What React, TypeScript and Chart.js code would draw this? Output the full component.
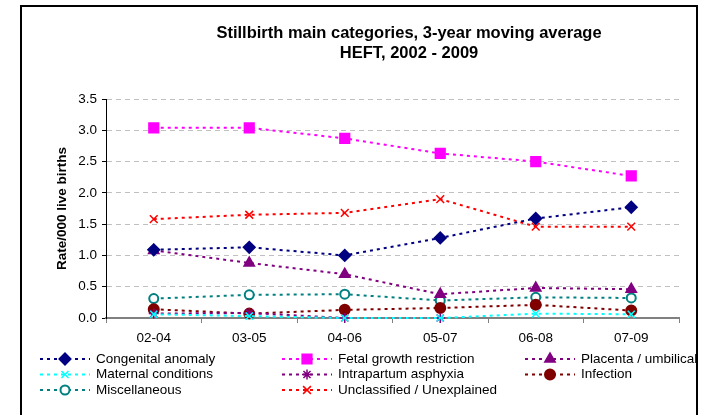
import React, { useEffect, useRef } from 'react';
import { Chart, registerables } from 'chart.js';
import { drawPoint } from 'chart.js/helpers';

Chart.register(...registerables);

const categories = ['02-04', '03-05', '04-06', '05-07', '06-08', '07-09'];
const congenital = [1.09, 1.13, 1.0, 1.28, 1.59, 1.77];
const fetalGrowth = [3.04, 3.04, 2.87, 2.63, 2.5, 2.27];
const placenta = [1.08, 0.88, 0.7, 0.38, 0.48, 0.46];
const maternal = [0.06, 0.03, 0.0, 0.0, 0.07, 0.06];
const intrapartum = [0.07, 0.08, 0.0, 0.0, null, null];
const infection = [0.14, 0.07, 0.13, 0.16, 0.21, 0.12];
const miscellaneous = [0.31, 0.37, 0.38, 0.28, 0.33, 0.32];
const unclassified = [1.58, 1.65, 1.68, 1.9, 1.46, 1.46];

const seriesNames = [
  'Congenital anomaly',
  'Fetal growth restriction',
  'Placenta / umbilical',
  'Maternal conditions',
  'Intrapartum asphyxia',
  'Infection',
  'Miscellaneous',
  'Unclassified / Unexplained',
];
const titleLines = ['Stillbirth main categories, 3-year moving average', 'HEFT, 2002 - 2009'];
const yTitle = 'Rate/000 live births';
const yTicks = { min: 0, max: 3.5, step: 0.5 };

const FONT = '"Liberation Sans", Arial, sans-serif';

function ds(label: string, data: (number | null)[], color: string, style: string, radius: number, fill: string, bw = 2) {
  return {
    label,
    data,
    borderColor: color,
    backgroundColor: color,
    borderWidth: 2,
    borderDash: [3, 4],
    pointStyle: style,
    pointRadius: radius,
    pointHoverRadius: radius,
    pointBackgroundColor: fill,
    pointBorderColor: color,
    pointBorderWidth: bw,
    fill: false,
    tension: 0,
    spanGaps: false,
    clip: false as any,
  };
}

const framePlugin = {
  id: 'frame',
  afterDraw(chart: any) {
    const ctx = chart.ctx;
    ctx.save();
    ctx.strokeStyle = '#000';
    ctx.lineWidth = 2;
    ctx.strokeRect(21, 6, 676, 430);
    // titles
    ctx.fillStyle = '#000';
    ctx.textAlign = 'center';
    ctx.textBaseline = 'middle';
    ctx.font = 'bold 16.5px ' + FONT;
    ctx.fillText(titleLines[0], 409, 33);
    ctx.fillText(titleLines[1], 409, 53);
    // y title
    ctx.save();
    ctx.translate(62, (chart.chartArea.top + chart.chartArea.bottom) / 2);
    ctx.rotate(-Math.PI / 2);
    ctx.font = 'bold 13.5px ' + FONT;
    ctx.fillText(yTitle, 0, 0);
    ctx.restore();
    // legend
    const colX = [40, 282, 525];
    const rowY = [359, 374.5, 390];
    ctx.beginPath();
    ctx.rect(0, 0, 696, 415);
    ctx.clip();
    chart.data.datasets.forEach((d: any, i: number) => {
      const x0 = colX[i % 3];
      const y = rowY[Math.floor(i / 3)];
      ctx.strokeStyle = d.borderColor;
      ctx.lineWidth = 2;
      ctx.setLineDash([3, 4]);
      ctx.beginPath();
      ctx.moveTo(x0, y);
      ctx.lineTo(x0 + 50, y);
      ctx.stroke();
      ctx.setLineDash([]);
      ctx.fillStyle = d.pointBackgroundColor;
      ctx.strokeStyle = d.pointBorderColor;
      ctx.lineWidth = d.pointBorderWidth;
      drawPoint(ctx, { pointStyle: d.pointStyle, radius: d.pointRadius, borderWidth: d.pointBorderWidth, rotation: 0 } as any, x0 + 25, y);
      ctx.fillStyle = '#000';
      ctx.font = '13.5px ' + FONT;
      ctx.textAlign = 'left';
      ctx.textBaseline = 'middle';
      ctx.fillText(d.label, x0 + 56, y);
    });
    ctx.restore();
  },
};

export default function App() {
  const ref = useRef<HTMLCanvasElement | null>(null);
  useEffect(() => {
    if (!ref.current) return;
    const chart = new Chart(ref.current, {
      type: 'line',
      data: {
        labels: categories,
        datasets: [
          ds(seriesNames[0], congenital, '#000080', 'rectRot', 5.5, '#000080'),
          ds(seriesNames[1], fetalGrowth, '#FF00FF', 'rect', 6.5, '#FF00FF'),
          ds(seriesNames[2], placenta, '#800080', 'triangle', 5.5, '#800080'),
          ds(seriesNames[3], maternal, '#00FFFF', 'crossRot', 5, '#00FFFF', 1.5),
          ds(seriesNames[4], intrapartum, '#800080', 'star', 5, '#800080', 1.5),
          ds(seriesNames[5], infection, '#800000', 'circle', 5, '#800000'),
          ds(seriesNames[6], miscellaneous, '#008080', 'circle', 4.5, '#FFFFFF'),
          ds(seriesNames[7], unclassified, '#FF0000', 'crossRot', 5.5, '#FF0000', 1.5),
        ],
      },
      options: {
        responsive: false,
        animation: false,
        devicePixelRatio: 1,
        layout: { padding: { left: 22, top: 99, right: 34, bottom: 67 } },
        plugins: { legend: { display: false }, title: { display: false }, tooltip: { enabled: false } },
        scales: {
          x: {
            offset: true,
            grid: { offset: true, drawOnChartArea: false, drawTicks: true, tickLength: 5, color: '#808080', tickColor: '#808080' },
            border: { display: true, color: '#808080', width: 2 },
            ticks: { color: '#000', font: { family: FONT, size: 13.5 }, padding: 7, maxRotation: 0 },
            afterFit: (s: any) => { s.height = 30; },
          },
          y: {
            min: yTicks.min,
            max: yTicks.max,
            grid: { color: '#c0c0c0', lineWidth: 1, tickLength: 4, tickColor: '#000', tickBorderDash: [] },
            border: { display: true, color: '#000', width: 1, dash: [5, 4] },
            ticks: {
              stepSize: yTicks.step,
              color: '#000',
              font: { family: FONT, size: 13.5 },
              padding: 5,
              callback: (v: any) => Number(v).toFixed(1),
            },
            afterFit: (s: any) => { s.width = 84; },
          },
        },
      },
      plugins: [framePlugin],
    });
    return () => chart.destroy();
  }, []);
  return (
    <div style={{ position: 'fixed', left: 0, top: 0, width: 713, height: 415, background: '#fff' }}>
      <canvas ref={ref} width={713} height={415} style={{ width: 713, height: 415, display: 'block' }} />
    </div>
  );
}
